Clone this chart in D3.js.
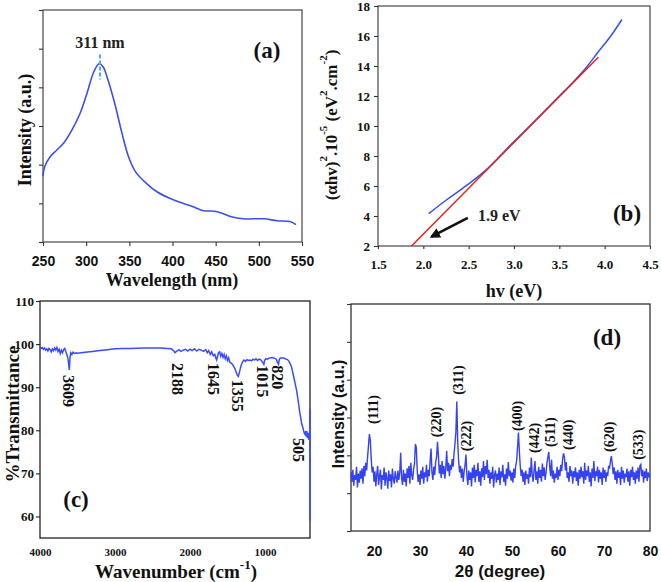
<!DOCTYPE html>
<html><head><meta charset="utf-8">
<script src="https://cdn.jsdelivr.net/npm/d3@7/dist/d3.min.js"></script>
<style>body{margin:0;background:#fff} svg{display:block}</style>
</head><body><svg id="chart" width="661" height="582"></svg>
<script>
// ---------- Panel (a): PL / absorption spectrum ----------
const aWavelength = [250,252,258.5,266,274,283.6,293,301,309,315,320,324,332,341.5,349,357,370,382,401,424,436,451,467,482,506,521,536,543];
const aIntensity  = [1.70,1.95,2.21,2.38,2.56,2.90,3.33,3.85,4.41,4.61,4.52,4.28,3.68,2.81,2.21,1.82,1.51,1.30,1.09,0.91,0.81,0.79,0.66,0.60,0.60,0.55,0.53,0.45];
const aXTicks = [250,300,350,400,450,500,550];
const aYTicks = [0,1,2,3,4,5,6];
const aPeakAt = 316, aPeakLabel = "311 nm";

// ---------- Panel (b): Tauc plot ----------
const bEnergy = [2.06,2.25,2.43,2.69,2.98,3.24,3.50,3.64,3.79,3.93,4.08,4.19];
const bAbs    = [4.16,5.05,5.83,7.06,8.84,10.40,12.00,12.85,13.85,14.95,16.10,17.10];
const bFitEnergy = [1.87,3.93];
const bFitAbs    = [2.0,14.58];
const bXTicks = [1.5,2.0,2.5,3.0,3.5,4.0,4.5];
const bYTicks = [2,4,6,8,10,12,14,16,18];
const bGapLabel = "1.9 eV";
const bArrowFrom = [2.49,3.87], bArrowTo = [2.09,2.62];

// ---------- Panel (c): FTIR ----------
const cWavenumber = [4000,3985,3970,3955,3940,3925,3910,3895,3880,3865,3850,3835,3820,3805,3790,3775,3760,3745,3730,3715,3700,3685,3670,3655,3640,3625,3615,3609,3600,3590,3575,3560,3540,3520,3500,3450,3400,3300,3200,3100,3000,2900,2800,2600,2400,2300,2250,2220,2200,2188,2170,2150,2120,2090,2060,2030,2000,1970,1940,1910,1880,1850,1820,1790,1770,1750,1730,1710,1690,1670,1655,1645,1635,1620,1605,1590,1575,1560,1545,1530,1515,1500,1485,1470,1450,1430,1410,1390,1370,1355,1340,1320,1300,1280,1260,1240,1220,1200,1180,1160,1140,1120,1100,1080,1060,1040,1025,1015,1005,990,970,950,930,900,870,850,835,820,810,795,770,740,720,700,680,660,645,625,600,578,555,533,510,489,475,465,458,450,442,434,426,418,410,405,400,400];
const cTransmit   = [99.3,99.0,99.2,98.8,99.1,98.6,98.9,98.4,99.0,98.7,98.2,98.9,98.5,99.1,98.6,99.2,98.3,98.8,97.8,98.6,98.0,98.7,99.0,98.2,97.5,96.5,94.8,94.0,96.8,98.0,97.6,98.1,97.8,98.0,97.9,98.0,98.1,98.3,98.5,98.7,98.9,99.0,99.0,99.1,99.1,99.0,98.9,98.5,98.0,98.2,98.4,98.7,98.3,98.6,98.8,98.4,98.8,98.5,98.9,98.4,98.8,98.6,98.3,98.7,98.0,98.5,97.6,98.2,97.3,97.6,96.7,96.3,97.0,98.0,98.2,97.2,97.8,96.9,97.6,96.6,97.3,96.2,96.8,95.8,95.6,95.2,94.6,93.8,92.8,92.5,93.5,95.0,95.8,96.3,96.0,96.4,96.2,96.3,96.1,96.5,96.3,96.6,96.2,96.5,96.4,96.0,95.6,95.3,96.2,96.6,96.5,96.7,96.8,96.9,96.7,96.5,95.8,95.3,96.4,96.8,96.8,96.7,96.5,96.4,96.0,95.3,94.6,93.0,91.0,89.2,86.5,83.8,81.5,80.2,79.2,79.0,79.8,78.5,79.8,78.2,79.4,77.8,78.4,78.0,85.0,59.0];
const cXTicks = [4000,3000,2000,1000];
const cYTicks = [60,70,80,90,100,110];
const cPeakLabels = ["3609","2188","1645","1355","1015","820","505"];
const cPeakLabelWn = [3625,2173,1693,1373,1027,840,547];
const cPeakLabelTop = [92.8,95.6,95.6,91.7,95.1,95.1,78.2];

// ---------- Panel (d): XRD ----------
const dStart = 15, dStep = 0.2;
const dIntensity = [
1.55,1.30,1.62,1.20,1.48,1.35,1.70,1.15,1.52,1.28,1.60,1.38,1.66,1.25,1.72,1.45,1.80,1.60,1.95,2.25,2.56,2.40,1.90,1.55,1.70,
1.30,1.58,1.18,1.50,1.72,1.22,1.45,1.62,1.10,1.48,1.35,1.68,1.20,1.55,1.40,1.12,1.60,1.32,1.50,1.15,1.65,1.38,1.25,1.58,1.42,
1.28,1.60,1.35,1.55,2.07,1.40,1.22,1.62,1.30,1.52,1.18,1.66,1.40,1.72,1.25,1.80,1.48,1.35,1.62,1.78,2.30,2.20,1.58,1.30,1.50,
1.22,1.60,1.38,1.70,1.25,1.55,1.42,1.75,1.30,1.62,1.45,1.85,2.18,1.55,1.35,1.70,1.48,1.82,1.95,2.36,2.00,1.52,1.75,1.40,1.85,
1.50,1.72,1.38,1.65,2.12,1.58,1.80,1.45,1.75,1.62,1.90,1.70,2.05,2.30,2.60,3.42,2.35,1.85,1.55,1.72,1.40,1.65,1.30,1.58,1.75,
2.02,1.45,1.22,1.60,1.35,1.55,1.18,1.68,1.40,1.75,1.28,1.62,1.45,1.80,1.30,1.58,1.20,1.66,1.42,1.85,1.35,1.72,1.50,1.88,1.40,
1.62,1.25,1.55,1.38,1.70,1.15,1.48,1.60,1.28,1.52,1.35,1.68,1.22,1.58,1.42,1.75,1.30,1.50,1.20,1.65,1.38,1.82,1.45,1.60,1.33,
1.55,1.28,1.65,1.40,1.72,1.85,2.20,2.60,2.10,1.70,1.45,1.62,1.30,1.55,1.22,1.60,1.38,1.50,1.25,1.68,1.42,1.94,1.48,1.30,1.62,
1.85,1.35,1.58,1.25,1.70,1.40,1.62,1.30,1.78,1.45,1.68,1.35,1.55,1.80,1.95,2.09,1.70,1.45,1.88,1.38,1.60,1.28,1.52,1.40,1.70,
1.35,1.62,1.45,1.75,1.58,1.90,2.05,1.95,1.60,1.82,1.40,1.55,1.30,1.72,1.45,1.60,1.25,1.58,1.42,1.68,1.32,1.55,1.20,1.62,1.38,
1.70,1.42,1.58,1.25,1.80,1.35,1.60,1.45,1.72,1.30,1.55,1.18,1.65,1.40,1.85,1.32,1.58,1.45,1.70,1.28,1.62,1.38,1.55,1.22,1.68,
1.40,1.62,1.30,1.55,1.45,1.72,1.65,1.85,1.98,1.78,1.50,1.68,1.35,1.58,1.25,1.62,1.40,1.55,1.22,1.70,1.38,1.60,1.28,1.52,1.42,
1.65,1.30,1.58,1.20,1.62,1.42,1.70,1.35,1.55,1.25,1.60,1.38,1.68,1.30,1.72,1.76,1.45,1.62,1.28,1.58,1.40,1.65,1.32,1.55,1.45,
1.50];
const dXTicks = [20,30,40,50,60,70,80];
const dYTicks = [0,1,2,3,4,5,6];
const dPeakLabels = ["(111)","(220)","(311)","(222)","(400)","(442)","(511)","(440)","(620)","(533)"];
const dPeakLabelX = [19.8,33.5,38.3,40.2,51.1,54.8,58.3,62.2,71.3,77.6];
const dPeakLabelBottom = [2.83,2.48,3.60,2.11,2.64,2.06,2.22,2.14,2.09,1.88];

// ================= drawing =================
const SERIF = "'Liberation Serif','Times New Roman',serif";
const SANS = "'Liberation Sans',Arial,sans-serif";
const svg = d3.select("#chart");
svg.append("rect").attr("width",661).attr("height",582).attr("fill","#fff");

function frame(x, y, color) {
  const [x0,x1] = x.range(), [y0,y1] = y.range();
  svg.append("rect").attr("x",Math.min(x0,x1)).attr("y",Math.min(y0,y1))
    .attr("width",Math.abs(x1-x0)).attr("height",Math.abs(y1-y0))
    .attr("fill","none").attr("stroke",color).attr("stroke-width",1.3);
}
function styleAxis(g, font, size, color) {
  g.select(".domain").remove();
  g.selectAll("line").attr("stroke",color).attr("stroke-width",1.1);
  g.selectAll("text").attr("font-family",font).attr("font-size",size)
    .attr("font-weight","bold").attr("fill","#111");
}
function title(x, y, txt, font, size, rot) {
  const t = svg.append("text").attr("font-family",font).attr("font-size",size)
    .attr("font-weight","bold").attr("fill","#111").attr("text-anchor","middle");
  if (rot) t.attr("transform",`translate(${x},${y}) rotate(${rot})`).attr("dominant-baseline","central");
  else t.attr("x",x).attr("y",y);
  return t;
}
function sup(t, s, size) {
  t.append("tspan").attr("font-size",size).attr("dy",-size*0.7).text(s);
  return t;
}
function back(t, s, size) {
  t.append("tspan").attr("dy",size*0.7).text(s);
  return t;
}

// ---- Panel a ----
{
  const x = d3.scaleLinear().domain([250,550]).range([43,302]);
  const y = d3.scaleLinear().domain([0,6]).range([242,10]);
  frame(x,y,"#555");
  styleAxis(svg.append("g").attr("transform","translate(0,242)")
    .call(d3.axisBottom(x).tickValues(aXTicks).tickSize(4).tickPadding(10)), SANS, 14, "#333");
  styleAxis(svg.append("g").attr("transform","translate(43,0)")
    .call(d3.axisLeft(y).tickValues(aYTicks).tickSize(4).tickFormat("")), SANS, 14, "#333");
  const line = d3.line().x((d,i)=>x(aWavelength[i])).y(d=>y(d)).curve(d3.curveCatmullRom);
  svg.append("path").attr("d",line(aIntensity)).attr("fill","none").attr("stroke","#3a50ec").attr("stroke-width",1.6);
  svg.append("line").attr("x1",x(aPeakAt)).attr("x2",x(aPeakAt)).attr("y1",y(4.85)).attr("y2",y(4.2))
    .attr("stroke","#5aa8e8").attr("stroke-width",2.2).attr("stroke-dasharray","4,2");
  svg.append("text").attr("x",x(aPeakAt)).attr("y",48).attr("text-anchor","middle")
    .attr("font-family",SERIF).attr("font-weight","bold").attr("font-size",16).attr("fill","#222").text(aPeakLabel);
  svg.append("text").attr("x",267).attr("y",58).attr("text-anchor","middle")
    .attr("font-family",SERIF).attr("font-weight","bold").attr("font-size",23).attr("fill","#111").text("(a)");
  title(172,286,"",SERIF,18).text("Wavelength (nm)");
  title(25,130,"",SERIF,18,-90).text("Intensity (a.u.)");
}

// ---- Panel b ----
{
  const x = d3.scaleLinear().domain([1.5,4.5]).range([378,650]);
  const y = d3.scaleLinear().domain([2,18]).range([246,6]);
  frame(x,y,"#555");
  styleAxis(svg.append("g").attr("transform","translate(0,246)")
    .call(d3.axisBottom(x).tickValues(bXTicks).tickSize(3).tickPadding(11).tickFormat(d3.format(".1f"))), SERIF, 13, "#333");
  styleAxis(svg.append("g").attr("transform","translate(378,0)")
    .call(d3.axisLeft(y).tickValues(bYTicks).tickSize(4).tickPadding(4)), SERIF, 13, "#333");
  const line = d3.line().x((d,i)=>x(bEnergy[i])).y(d=>y(d)).curve(d3.curveMonotoneX);
  svg.append("path").attr("d",line(bAbs)).attr("fill","none").attr("stroke","#3550f0").attr("stroke-width",1.5);
  const fit = d3.line().x((d,i)=>x(bFitEnergy[i])).y(d=>y(d));
  svg.append("path").attr("d",fit(bFitAbs)).attr("fill","none").attr("stroke","#e8201c").attr("stroke-width",1.5);
  const defs = svg.append("defs");
  defs.append("marker").attr("id","ah").attr("viewBox","0 0 10 10").attr("refX",8).attr("refY",5)
    .attr("markerWidth",4).attr("markerHeight",4).attr("orient","auto")
    .append("path").attr("d","M0,0 L10,5 L0,10 z").attr("fill","#111");
  svg.append("line").attr("x1",x(bArrowFrom[0])).attr("y1",y(bArrowFrom[1]))
    .attr("x2",x(bArrowTo[0])).attr("y2",y(bArrowTo[1]))
    .attr("stroke","#111").attr("stroke-width",2.6).attr("marker-end","url(#ah)");
  svg.append("text").attr("x",478).attr("y",221).attr("font-family",SERIF).attr("font-weight","bold")
    .attr("font-size",16).attr("fill","#222").text(bGapLabel);
  svg.append("text").attr("x",627).attr("y",221).attr("text-anchor","middle")
    .attr("font-family",SERIF).attr("font-weight","bold").attr("font-size",23).attr("fill","#111").text("(b)");
  title(514,297,"",SERIF,18).text("hv (eV)");
  const t = title(331,125,"",SERIF,17,-90);
  t.append("tspan").text("(\u03b1hv)"); sup(t,"2",11); back(t,".10",11); sup(t,"-5",11);
  back(t," (eV",11); sup(t,"2",11); back(t,".cm",11); sup(t,"-2",11); back(t,")",11);
}

// ---- Panel c ----
{
  const x = d3.scaleLinear().domain([4000,400]).range([40,310]);
  const y = d3.scaleLinear().domain([55,110]).range([538,301]);
  frame(x,y,"#222");
  styleAxis(svg.append("g").attr("transform","translate(0,538)")
    .call(d3.axisBottom(x).tickValues(cXTicks).tickSize(0).tickPadding(10).tickFormat(d3.format("d"))), SERIF, 11, "#222");
  styleAxis(svg.append("g").attr("transform","translate(40,0)")
    .call(d3.axisLeft(y).tickValues(cYTicks).tickSize(4).tickPadding(2)), SERIF, 13, "#222");
  const line = d3.line().x((d,i)=>x(cWavenumber[i])).y(d=>y(d));
  svg.append("path").attr("d",line(cTransmit)).attr("fill","none").attr("stroke","#3a4cff").attr("stroke-width",1.5);
  cPeakLabels.forEach((lab,i)=>{
    svg.append("text").attr("transform",`translate(${x(cPeakLabelWn[i])},${y(cPeakLabelTop[i])}) rotate(90)`)
      .attr("dominant-baseline","central").attr("font-family",SERIF).attr("font-weight","bold")
      .attr("font-size",16).attr("fill","#111").text(lab);
  });
  svg.append("text").attr("x",76).attr("y",507).attr("text-anchor","middle")
    .attr("font-family",SERIF).attr("font-weight","bold").attr("font-size",23).attr("fill","#111").text("(c)");
  const t = title(176,578,"",SERIF,19);
  t.append("tspan").text("Wavenumber (cm"); sup(t,"-1",13); back(t,")",13);
  title(12,414,"",SERIF,19,-90).text("%Transmittance");
}

// ---- Panel d ----
{
  const x = d3.scaleLinear().domain([15,80]).range([351,650]);
  const y = d3.scaleLinear().domain([0,6]).range([531,304]);
  frame(x,y,"#333");
  styleAxis(svg.append("g").attr("transform","translate(0,531)")
    .call(d3.axisBottom(x).tickValues(dXTicks).tickSize(0).tickPadding(15)), SANS, 14, "#333");
  styleAxis(svg.append("g").attr("transform","translate(351,0)")
    .call(d3.axisLeft(y).tickValues(dYTicks).tickSize(4).tickFormat("")), SANS, 14, "#333");
  const line = d3.line().x((d,i)=>x(dStart + i*dStep)).y(d=>y(d));
  svg.append("path").attr("d",line(dIntensity)).attr("fill","none").attr("stroke","#3442f2").attr("stroke-width",1.4);
  dPeakLabels.forEach((lab,i)=>{
    svg.append("text").attr("transform",`translate(${x(dPeakLabelX[i])},${y(dPeakLabelBottom[i])}) rotate(-90)`)
      .attr("dominant-baseline","central").attr("font-family",SERIF).attr("font-weight","bold")
      .attr("font-size",14).attr("fill","#111").text(lab);
  });
  svg.append("text").attr("x",607).attr("y",345).attr("text-anchor","middle")
    .attr("font-family",SERIF).attr("font-weight","bold").attr("font-size",23).attr("fill","#111").text("(d)");
  title(500,577,"",SANS,17).text("2\u03b8 (degree)");
  title(338,414,"",SANS,16,-90).text("Intensity (a.u.)");
}
</script></body></html>
